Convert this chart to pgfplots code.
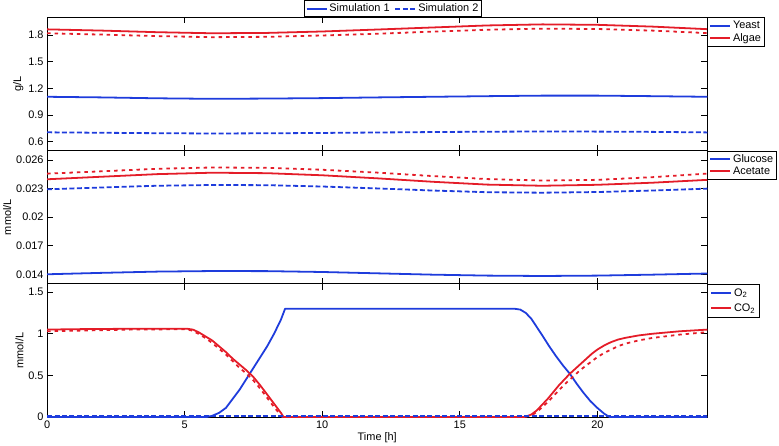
\documentclass[border=0pt]{standalone}
\usepackage{fontspec}
\setmainfont{Liberation Sans}
\usepackage{pgfplots}
\pgfplotsset{compat=1.18}

\definecolor{mblue}{RGB}{30,60,220}
\definecolor{mred}{RGB}{228,28,40}

\pgfplotsset{
  panel/.style={
    scale only axis, width=664pt, height=134pt,
    xmin=0, xmax=24, xtick={0,5,10,15,20},
    tick align=inside, tick pos=both, major tick length=6pt,
    axis line style={line width=0.9pt},
    every tick/.style={black, line width=0.9pt},
    font=\fontsize{11}{13}\selectfont,
    /pgf/number format/assume math mode=true,
    ylabel style={yshift=-2pt},
    legend cell align=left,
    legend style={at={(1,1)}, anchor=north west, draw=black, line width=0.9pt,
      inner sep=1.5pt, row sep=-1pt, font=\fontsize{11}{13}\selectfont},
    legend image code/.code={\draw[#1] (0pt,0pt) -- (20pt,0pt);},
  },
  s1/.style={solid, line width=1.8pt, line join=round},
  s2/.style={dash pattern=on 5pt off 2.5pt, line width=1.8pt},
  r2/.style={dash pattern=on 3.5pt off 4pt, line width=1.8pt},
}

\begin{document}
\begin{tikzpicture}

% --- biomass
\begin{axis}[panel, name=top, at={(0,0)},
  ymin=0.5, ymax=2.0, ytick={0.6,0.9,1.2,1.5,1.8},
  yticklabels={0.6,0.9,1.2,1.5,1.8}, xticklabels={},
  ylabel={g/L}]
\addplot[mblue, s1] coordinates {(0,1.105) (2,1.098) (4,1.088) (6,1.082) (8,1.085) (10,1.090) (12,1.098) (14,1.105) (16,1.112) (18,1.118) (20,1.118) (22,1.112) (24,1.105)};
\addlegendentry{Yeast}
\addplot[mred, s1] coordinates {(0,1.864) (2,1.850) (4,1.832) (6,1.820) (8,1.824) (10,1.840) (12,1.862) (14,1.885) (16,1.908) (18,1.920) (20,1.915) (22,1.895) (24,1.866)};
\addlegendentry{Algae}
\addplot[mblue, s2, forget plot] coordinates {(0,0.705) (2,0.700) (4,0.695) (6,0.692) (8,0.694) (10,0.698) (12,0.703) (14,0.708) (16,0.712) (18,0.714) (20,0.713) (22,0.710) (24,0.704)};
\addplot[mred, r2, forget plot] coordinates {(0,1.820) (2,1.805) (4,1.788) (6,1.776) (8,1.780) (10,1.795) (12,1.815) (14,1.838) (16,1.860) (18,1.872) (20,1.868) (22,1.850) (24,1.822)};
\end{axis}

% --- simulation legend
\begin{axis}[panel, at={(0,0)}, hide axis, xmin=0, xmax=1, ymin=0, ymax=1,
  legend columns=-1,
  legend style={at={(0.524,1)}, anchor=south, /tikz/every even column/.append style={column sep=3pt}}]
\addlegendimage{mblue, s1}
\addlegendentry{Simulation 1}
\addlegendimage{mblue, s2}
\addlegendentry{Simulation 2}
\end{axis}

% --- substrates
\begin{axis}[panel, name=mid, at={(0,-134pt)},
  ymin=0.013, ymax=0.027, ytick={0.014,0.017,0.020,0.023,0.026},
  yticklabels={0.014,0.017,0.02,0.023,0.026}, xticklabels={},
  scaled y ticks=false, ylabel={mmol/L}]
\addplot[mblue, s1] coordinates {(0,0.01400) (2,0.01415) (4,0.01428) (6,0.01434) (8,0.01433) (10,0.01424) (12,0.01410) (14,0.01396) (16,0.01386) (18,0.01382) (20,0.01386) (22,0.01396) (24,0.01408)};
\addlegendentry{Glucose}
\addplot[mred, s1] coordinates {(0,0.02398) (2,0.02425) (4,0.02452) (6,0.02467) (8,0.02462) (10,0.02440) (12,0.02408) (14,0.02372) (16,0.02342) (18,0.02330) (20,0.02340) (22,0.02362) (24,0.02392)};
\addlegendentry{Acetate}
\addplot[mblue, s2, forget plot] coordinates {(0,0.02293) (2,0.02312) (4,0.02330) (6,0.02338) (8,0.02336) (10,0.02322) (12,0.02302) (14,0.02280) (16,0.02262) (18,0.02257) (20,0.02264) (22,0.02280) (24,0.02300)};
\addplot[mred, r2, forget plot] coordinates {(0,0.02457) (2,0.02482) (4,0.02508) (6,0.02522) (8,0.02518) (10,0.02498) (12,0.02468) (14,0.02432) (16,0.02400) (18,0.02385) (20,0.02392) (22,0.02420) (24,0.02458)};
\end{axis}

% --- gases
\begin{axis}[panel, name=bot, at={(0,-268pt)},
  ymin=0, ymax=1.6, ytick={0,0.5,1,1.5}, yticklabels={0,0.5,1,1.5},
  xticklabels={0,5,10,15,20},
  legend style={row sep=2pt, inner sep=2.5pt},
  xlabel={Time [h]}, xlabel style={yshift=3pt}, ylabel={mmol/L}]
\addplot[mblue, s1] coordinates {(0,0) (5.8,0) (6.0,0.015) (6.25,0.05) (6.5,0.11) (6.75,0.22) (7.0,0.33) (7.25,0.46) (7.5,0.59) (7.75,0.72) (8.0,0.85) (8.25,1.00) (8.5,1.17) (8.65,1.30) (17.0,1.30) (17.2,1.29) (17.4,1.25) (17.6,1.18) (17.8,1.08) (18.0,0.98) (18.25,0.85) (18.5,0.73) (18.75,0.62) (19.0,0.52) (19.25,0.40) (19.5,0.29) (19.75,0.19) (20.0,0.11) (20.25,0.04) (20.45,0) (24,0)};
\addlegendentry{O\textsubscript{2}}
\addplot[mred, s1] coordinates {(0,1.05) (1,1.055) (3,1.06) (5.1,1.06) (5.3,1.05) (5.5,1.02) (5.75,0.97) (6.0,0.92) (6.25,0.85) (6.5,0.78) (6.75,0.70) (7.0,0.63) (7.25,0.56) (7.5,0.48) (7.75,0.38) (8.0,0.27) (8.25,0.16) (8.5,0.05) (8.6,0) (17.35,0) (17.6,0.03) (17.8,0.08) (18.0,0.15) (18.2,0.22) (18.4,0.30) (18.6,0.38) (18.8,0.45) (19.0,0.52) (19.2,0.58) (19.4,0.64) (19.6,0.70) (19.8,0.76) (20.0,0.81) (20.25,0.86) (20.5,0.90) (20.75,0.93) (21.0,0.95) (21.5,0.98) (22,1.00) (23,1.03) (24,1.05)};
\addlegendentry{CO\textsubscript{2}}
\addplot[mred, r2, forget plot] coordinates {(0,1.03) (3,1.05) (5.0,1.055) (5.25,1.04) (5.5,1.00) (5.75,0.95) (6.0,0.89) (6.25,0.82) (6.5,0.75) (6.75,0.67) (7.0,0.59) (7.25,0.52) (7.5,0.44) (7.75,0.34) (8.0,0.23) (8.25,0.12) (8.5,0.02) (8.55,0) (17.35,0) (17.6,0.02) (17.8,0.06) (18.0,0.12) (18.2,0.18) (18.4,0.25) (18.6,0.32) (18.8,0.39) (19.0,0.45) (19.2,0.51) (19.4,0.57) (19.6,0.62) (19.8,0.67) (20.0,0.72) (20.25,0.77) (20.5,0.81) (20.75,0.85) (21.0,0.88) (21.5,0.92) (22,0.95) (23,0.99) (24,1.02)};
\addplot[mblue, s2, forget plot] coordinates {(0,0.012) (6,0.012) (12,0.012) (18,0.012) (24,0.012)};
\end{axis}

\path (top.north east) ++(72pt,0pt);
\end{tikzpicture}
\end{document}
